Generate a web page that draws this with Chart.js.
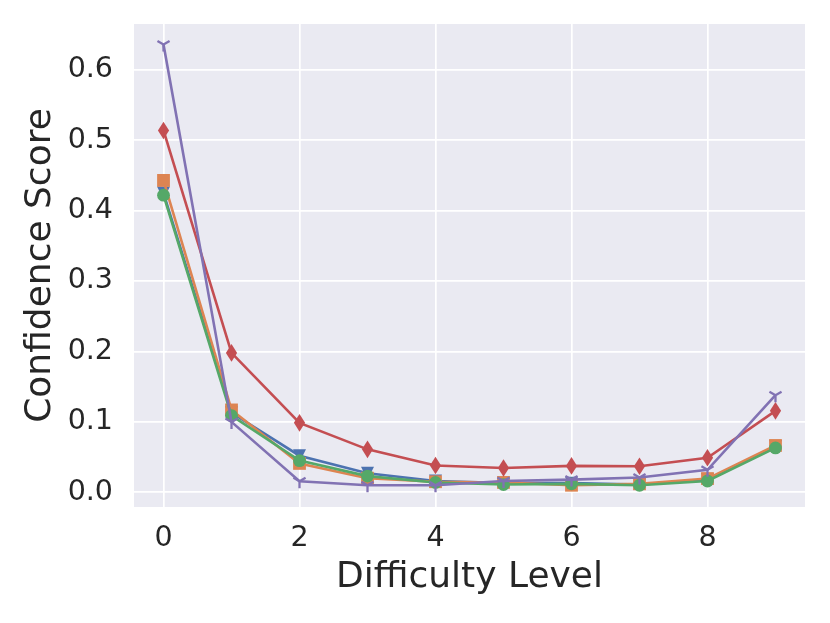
<!DOCTYPE html>
<html>
<head>
<meta charset="utf-8">
<script src="https://cdn.jsdelivr.net/npm/chart.js@4.4.0/dist/chart.umd.min.js"></script>
<style>
  html, body { margin: 0; padding: 0; background: #ffffff; }
  #wrap { width: 830px; height: 623px; }
</style>
</head>
<body>
<div id="wrap"><canvas id="c" width="830" height="623"></canvas></div>
<script>
// ---- data ----
const levels = [0, 1, 2, 3, 4, 5, 6, 7, 8, 9];
const blueSeries   = [0.425, 0.113, 0.052, 0.027, 0.016, 0.013, 0.013, 0.011, 0.018, 0.065];
const orangeSeries = [0.443, 0.117, 0.041, 0.020, 0.015, 0.014, 0.010, 0.012, 0.0195, 0.0665];
const greenSeries  = [0.422, 0.109, 0.045, 0.023, 0.014, 0.011, 0.012, 0.010, 0.016, 0.063];
const redSeries    = [0.514, 0.198, 0.0986, 0.061, 0.038, 0.0346, 0.0375, 0.037, 0.049, 0.1157];
const purpleSeries = [0.636, 0.100, 0.0156, 0.010, 0.010, 0.016, 0.018, 0.021, 0.032, 0.138];
const xTicks = [0, 2, 4, 6, 8];
const yTicks = [0.0, 0.1, 0.2, 0.3, 0.4, 0.5, 0.6];
const xLabel = 'Difficulty Level';
const yLabel = 'Confidence Score';

// ---- marker drawing ----
function drawMarker(ctx, kind, x, y, color) {
  ctx.save();
  ctx.fillStyle = color;
  ctx.strokeStyle = color;
  ctx.beginPath();
  if (kind === 'v') {
    const r = 6.5;
    ctx.moveTo(x, y + r);
    ctx.lineTo(x - r, y - r);
    ctx.lineTo(x + r, y - r);
    ctx.closePath();
    ctx.fill();
  } else if (kind === 's') {
    const h = 6.4;
    ctx.rect(x - h, y - h, 2 * h, 2 * h);
    ctx.fill();
  } else if (kind === 'o') {
    ctx.arc(x, y, 6.4, 0, Math.PI * 2);
    ctx.fill();
  } else if (kind === 'd') {
    const hh = 8.8, hw = 5.6;
    ctx.moveTo(x, y - hh);
    ctx.lineTo(x + hw, y);
    ctx.lineTo(x, y + hh);
    ctx.lineTo(x - hw, y);
    ctx.closePath();
    ctx.fill();
  } else if (kind === '1') {
    const r = 7;
    ctx.lineWidth = 2.3;
    ctx.moveTo(x, y); ctx.lineTo(x, y + r);
    ctx.moveTo(x, y); ctx.lineTo(x - r * 0.866, y - r * 0.5);
    ctx.moveTo(x, y); ctx.lineTo(x + r * 0.866, y - r * 0.5);
    ctx.stroke();
  }
  ctx.restore();
}

const markerPlugin = {
  id: 'markers',
  afterDatasetDraw(chart, args) {
    const ds = chart.data.datasets[args.index];
    const meta = args.meta;
    const ctx = chart.ctx;
    meta.data.forEach(pt => drawMarker(ctx, ds.marker, pt.x, pt.y, ds.borderColor));
  }
};

const bgPlugin = {
  id: 'bg',
  beforeDraw(chart) {
    const a = chart.chartArea;
    const ctx = chart.ctx;
    ctx.save();
    ctx.fillStyle = '#EAEAF2';
    ctx.fillRect(a.left, a.top, a.right - a.left, a.bottom - a.top);
    ctx.restore();
  }
};

function series(data, color, marker, order) {
  return {
    data: levels.map((x, i) => ({ x: x, y: data[i] })),
    borderColor: color,
    backgroundColor: color,
    borderWidth: 2.6,
    pointRadius: 0,
    pointHoverRadius: 0,
    tension: 0,
    fill: false,
    marker: marker,
    order: order,
    clip: false
  };
}

const textColor = '#262626';

new Chart(document.getElementById('c'), {
  type: 'line',
  data: {
    datasets: [
      series(blueSeries, '#4C72B0', 'v', 5),
      series(orangeSeries, '#DD8452', 's', 4),
      series(greenSeries, '#55A868', 'o', 3),
      series(redSeries, '#C44E52', 'd', 2),
      series(purpleSeries, '#8172B3', '1', 1)
    ]
  },
  options: {
    responsive: false,
    animation: false,
    devicePixelRatio: 1,
    layout: { padding: { top: 24, right: 25, left: 0, bottom: 0 } },
    plugins: { legend: { display: false }, tooltip: { enabled: false } },
    events: [],
    scales: {
      x: {
        type: 'linear',
        min: -0.434,
        max: 9.434,
        afterBuildTicks: (axis) => { axis.ticks = xTicks.map(v => ({ value: v })); },
        afterFit: (scale) => { scale.height = 116; scale.paddingLeft = 0; scale.paddingRight = 0; },
        grid: { color: '#ffffff', lineWidth: 1.7, drawTicks: false },
        border: { display: false },
        ticks: {
          padding: 14,
          color: textColor,
          font: { family: 'DejaVu Sans', size: 28.5 },
          callback: (v) => String(v)
        },
        title: {
          display: true,
          text: xLabel,
          color: textColor,
          font: { family: 'DejaVu Sans', size: 36 },
          padding: { top: 0, bottom: 24 }
        }
      },
      y: {
        type: 'linear',
        min: -0.0209,
        max: 0.6652,
        afterBuildTicks: (axis) => { axis.ticks = yTicks.map(v => ({ value: v })); },
        afterFit: (scale) => { scale.width = 134; scale.paddingTop = 0; scale.paddingBottom = 0; },
        grid: { color: '#ffffff', lineWidth: 1.7, drawTicks: false },
        border: { display: false },
        ticks: {
          padding: 21,
          color: textColor,
          font: { family: 'DejaVu Sans', size: 28.5 },
          callback: (v) => Number(v).toFixed(1)
        },
        title: {
          display: true,
          text: yLabel,
          color: textColor,
          font: { family: 'DejaVu Sans', size: 36 },
          padding: { top: 18.6, bottom: 0 }
        }
      }
    }
  },
  plugins: [bgPlugin, markerPlugin]
});
</script>
</body>
</html>
